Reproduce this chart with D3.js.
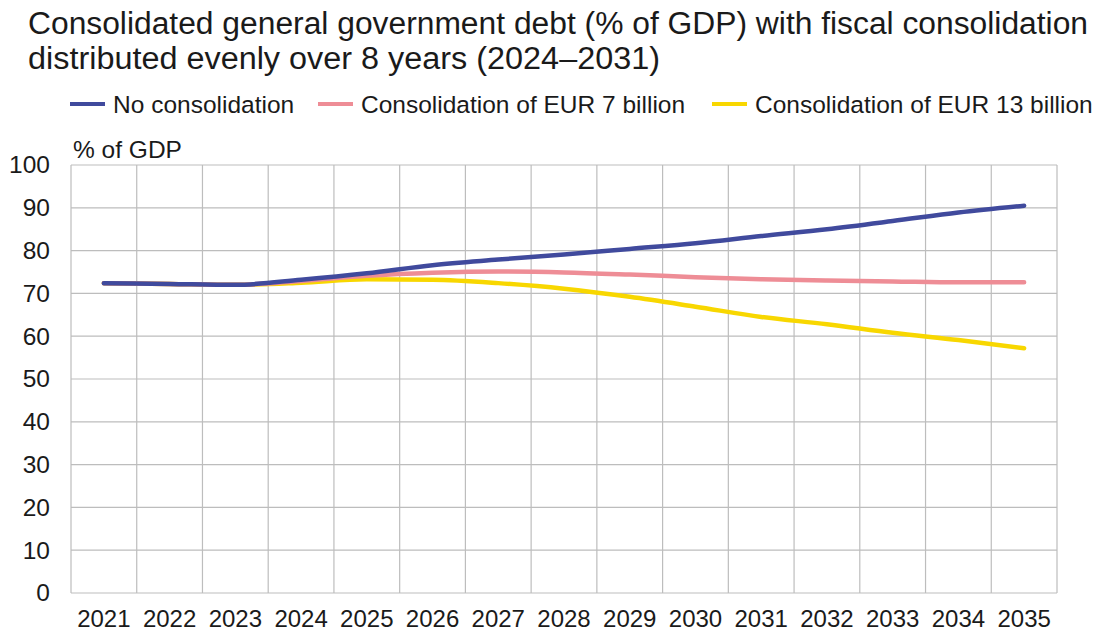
<!DOCTYPE html>
<html>
<head>
<meta charset="utf-8">
<script src="https://cdn.jsdelivr.net/npm/d3@7"></script>
<style>
  body { margin: 0; background: #fff; }
  text { font-family: "Liberation Sans", Arial, sans-serif; fill: #1a1a1a; }
</style>
</head>
<body>
<div id="canvas"></div>
<script>
const years = ["2021","2022","2023","2024","2025","2026","2027","2028","2029","2030","2031","2032","2033","2034","2035"];
const noConsolidation = [72.4, 72.2, 72.0, 73.2, 74.7, 76.6, 77.9, 79.1, 80.4, 81.7, 83.4, 85.0, 86.9, 88.9, 90.5];
const eur7 = [72.4, 72.2, 72.0, 72.9, 74.1, 74.8, 75.1, 74.9, 74.4, 73.8, 73.3, 73.0, 72.8, 72.6, 72.6];
const eur13 = [72.4, 72.2, 72.0, 72.5, 73.3, 73.2, 72.4, 71.1, 69.2, 66.9, 64.5, 62.8, 60.8, 59.1, 57.2];
const yTicks = [0, 10, 20, 30, 40, 50, 60, 70, 80, 90, 100];

const series = [
  { name: "No consolidation", values: noConsolidation, color: "#404a9d" },
  { name: "Consolidation of EUR 7 billion", values: eur7, color: "#ee8d96" },
  { name: "Consolidation of EUR 13 billion", values: eur13, color: "#f8d700" }
];

const width = 1099;
const height = 636;
const margin = { top: 165, left: 71, bottom: 43, right: 42 };
const iwidth = width - margin.left - margin.right;
const iheight = height - margin.top - margin.bottom;

const svg = d3.select("#canvas").append("svg")
  .attr("width", width)
  .attr("height", height);

// title
const title = svg.append("text").attr("font-size", 31);
title.append("tspan").attr("x", 28).attr("y", 34)
  .attr("textLength", 1060).attr("lengthAdjust", "spacingAndGlyphs")
  .text("Consolidated general government debt (% of GDP) with fiscal consolidation");
title.append("tspan").attr("x", 28).attr("y", 69)
  .attr("textLength", 632).attr("lengthAdjust", "spacingAndGlyphs")
  .text("distributed evenly over 8 years (2024\u20132031)");

// legend
const legendX = [70, 318, 712];
series.forEach((s, i) => {
  const lg = svg.append("g").attr("transform", `translate(${legendX[i]},104)`);
  lg.append("line").attr("x1", 0).attr("x2", 35).attr("y1", 0).attr("y2", 0)
    .attr("stroke", s.color).attr("stroke-width", 4);
  lg.append("text").attr("x", 43).attr("y", 8.5).attr("font-size", 24.5).text(s.name);
});

svg.append("text").attr("x", 73).attr("y", 158).attr("font-size", 24.5).text("% of GDP");

const g = svg.append("g").attr("transform", `translate(${margin.left},${margin.top})`);

const x = d3.scaleBand()
  .domain(years)
  .range([0, iwidth]);
const y = d3.scaleLinear()
  .domain([0, 100])
  .range([iheight, 0]);

// horizontal grid
g.append("g")
  .selectAll("line").data(yTicks).enter().append("line")
  .attr("x1", 0).attr("x2", iwidth)
  .attr("y1", d => y(d)).attr("y2", d => y(d))
  .attr("stroke", "#bdbdbd").attr("stroke-width", 1.2);

// vertical grid
g.append("g")
  .selectAll("line").data(years.concat(["end"])).enter().append("line")
  .attr("x1", (d, i) => i * x.bandwidth()).attr("x2", (d, i) => i * x.bandwidth())
  .attr("y1", 0).attr("y2", iheight)
  .attr("stroke", "#bdbdbd").attr("stroke-width", 1.2);

// y axis labels
const yAxis = g.append("g")
  .call(d3.axisLeft(y).tickValues(yTicks).tickSize(0).tickPadding(21));
yAxis.select(".domain").remove();
yAxis.selectAll("text").attr("font-size", 24.5).attr("fill", "#1a1a1a")
  .style("font-family", "'Liberation Sans', Arial, sans-serif");

// x axis labels
const xAxis = g.append("g")
  .attr("transform", `translate(0,${iheight})`)
  .call(d3.axisBottom(x).tickSize(0).tickPadding(17));
xAxis.select(".domain").remove();
xAxis.selectAll("text").attr("font-size", 24).attr("fill", "#1a1a1a")
  .style("font-family", "'Liberation Sans', Arial, sans-serif");

const line = d3.line()
  .x((d, i) => x(years[i]) + x.bandwidth() / 2)
  .y(d => y(d))
  .curve(d3.curveMonotoneX);

// draw yellow first, then pink, then blue on top
series.slice().reverse().forEach(s => {
  g.append("path")
    .datum(s.values)
    .attr("fill", "none")
    .attr("stroke", s.color)
    .attr("stroke-width", 4.5)
    .attr("stroke-linecap", "round")
    .attr("d", line);
});
</script>
</body>
</html>
